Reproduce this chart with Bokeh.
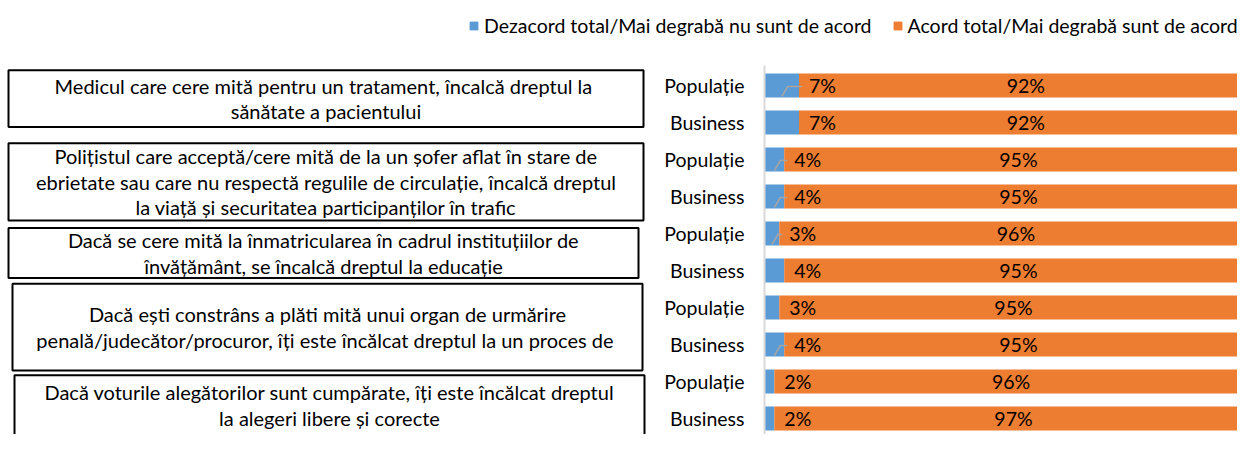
from bokeh.plotting import figure
from bokeh.models import Range1d, FixedTicker, ColumnDataSource, Legend, LegendItem
from bokeh.layouts import column, row
from bokeh.embed import file_html
from bokeh.resources import INLINE
from bokeh.core.properties import value

# ---------------- data ----------------
questions = [
    ["Medicul  care cere mită pentru un tratament, încalcă dreptul la",
     "sănătate a pacientului"],
    ["Polițistul care acceptă/cere mită de la un șofer aflat în stare de",
     "ebrietate sau care nu respectă regulile de circulație, încalcă dreptul",
     "la viață și securitatea participanților în trafic"],
    ["Dacă se cere mită la înmatricularea în cadrul instituțiilor de",
     "învățământ, se încalcă dreptul la educație"],
    ["Dacă ești constrâns a plăti mită unui organ de urmărire",
     "penală/judecător/procuror, îți este  încălcat dreptul la un proces de"],
    ["Dacă voturile alegătorilor sunt cumpărate, îți este încălcat dreptul",
     "la alegeri libere și corecte"],
]
groups = ["Populație", "Business"]
series_names = ["Dezacord total/Mai degrabă nu sunt de acord",
                "Acord total/Mai degrabă sunt de acord"]
dezacord = [7, 7, 4, 4, 3, 4, 3, 4, 2, 2]
acord = [92, 92, 95, 95, 96, 95, 95, 95, 96, 97]
leader_rows = [0, 2, 3, 4, 7]   # rows whose small label has a leader line

# ---------------- style / layout ----------------
FONT = "Lato"
BLUE = "#5B9BD5"
ORANGE = "#ED7D31"
TXT = "#000000"
FS_BOX = "20px"
FS_LBL = "19.5px"

W_TOTAL = 1237
TOP_H = 52
ROW_H = 382
BORDER_TOP = 13
LEFT_W = 650
RIGHT_W = W_TOTAL - LEFT_W
AXIS_PANEL = 114
ROW_PX = 37.0          # pixels per bar row
FIRST_ROW_PX = 20.0    # first row centre below frame top
PX_PER_PCT = 4.93
X_END = (RIGHT_W - AXIS_PANEL) / PX_PER_PCT

frame_h = ROW_H - BORDER_TOP
y_top = -FIRST_ROW_PX / ROW_PX
y_bottom = (frame_h - FIRST_ROW_PX) / ROW_PX
yr = Range1d(start=y_bottom, end=y_top)

n = len(dezacord)
rows_idx = list(range(n))
row_labels = {i: groups[i % len(groups)] for i in rows_idx}

# ---------------- right: bars ----------------
pr = figure(width=RIGHT_W, height=ROW_H, x_range=Range1d(0, X_END), y_range=yr,
            output_backend="svg", toolbar_location=None,
            min_border_left=AXIS_PANEL, min_border_right=0,
            min_border_top=BORDER_TOP, min_border_bottom=0,
            x_axis_location=None)
pr.outline_line_color = None
pr.grid.visible = False

tot = [d + a for d, a in zip(dezacord, acord)]
mid = [d + a / 2 for d, a in zip(dezacord, acord)]
src = ColumnDataSource(dict(
    y=rows_idx, zero=[0] * n, dez=dezacord, tot=tot, mid=mid,
    dez_lbl=[f"{v}%" for v in dezacord], ac_lbl=[f"{v}%" for v in acord]))

BAR_H = 24 / ROW_PX
pr.hbar(y="y", left="zero", right="dez", height=BAR_H, source=src,
        fill_color=BLUE, line_color=None)
pr.hbar(y="y", left="dez", right="tot", height=BAR_H, source=src,
        fill_color=ORANGE, line_color=None)

xs, ys = [], []
for i in leader_rows:
    d = dezacord[i]
    xs.append([d / 2, d / 2 + 6 / PX_PER_PCT, d + 3 / PX_PER_PCT])
    ys.append([i + 11 / ROW_PX, i + 1 / ROW_PX, i + 1 / ROW_PX])
pr.multi_line(xs=xs, ys=ys, line_color="#A5A5A5", line_width=1.5)

pr.text(x="dez", y="y", text="dez_lbl", source=src, x_offset=10,
        text_align="left", text_baseline="middle", text_color=TXT,
        text_font=value(FONT), text_font_size=FS_LBL)
pr.text(x="mid", y="y", text="ac_lbl", source=src,
        text_align="center", text_baseline="middle", text_color=TXT,
        text_font=value(FONT), text_font_size=FS_LBL)

ax = pr.yaxis[0]
ax.ticker = FixedTicker(ticks=rows_idx)
ax.major_label_overrides = row_labels
ax.major_tick_line_color = None
ax.minor_tick_line_color = None
ax.axis_line_color = "#D9D9D9"
ax.axis_line_width = 2
ax.major_label_standoff = 14
ax.major_label_text_font = FONT
ax.major_label_text_font_size = FS_LBL
ax.major_label_text_color = TXT

# ---------------- left: statement boxes ----------------
box_top = [-0.41, 1.56, 3.85, 5.36, 7.83]
box_bottom = [1.12, 3.65, 5.20, 7.70, 9.45]
box_left = [9, 9, 9, 13, 15]
box_right = [644, 644, 639, 643, 645]

pl = figure(width=LEFT_W, height=ROW_H, x_range=Range1d(1, 1 + LEFT_W), y_range=yr,
            output_backend="svg", toolbar_location=None,
            min_border_left=0, min_border_right=0,
            min_border_top=BORDER_TOP, min_border_bottom=0,
            x_axis_location=None, y_axis_location=None)
pl.outline_line_color = None
pl.grid.visible = False
pl.quad(left=box_left, right=box_right, top=box_top, bottom=box_bottom,
        fill_color="white", line_color="#000000", line_width=2)

LINE_PX = 25.5
tx, ty, tt = [], [], []
for k, lines in enumerate(questions):
    cx = (box_left[k] + box_right[k]) / 2
    cy = (box_top[k] + box_bottom[k]) / 2
    m = len(lines)
    for j, ln in enumerate(lines):
        tx.append(cx)
        ty.append(cy + (j - (m - 1) / 2) * LINE_PX / ROW_PX)
        tt.append(ln)
pl.text(x=tx, y=ty, text=tt, text_align="center", text_baseline="middle",
        text_color=TXT, text_font=value(FONT), text_font_size=FS_BOX)

# ---------------- top: legend ----------------
pt = figure(width=W_TOTAL, height=TOP_H, output_backend="svg", toolbar_location=None,
            x_range=Range1d(0, 1), y_range=Range1d(0, 1),
            min_border=0, x_axis_location=None, y_axis_location=None)
pt.outline_line_color = None
pt.grid.visible = False
r1 = pt.quad(left=[5], right=[6], top=[5], bottom=[6], fill_color=BLUE, line_color=None)
r2 = pt.quad(left=[5], right=[6], top=[5], bottom=[6], fill_color=ORANGE, line_color=None)
leg = Legend(items=[LegendItem(label=series_names[0], renderers=[r1]),
                    LegendItem(label=series_names[1], renderers=[r2])],
             orientation="horizontal", location=(468, 15),
             glyph_width=11, glyph_height=11, label_standoff=5, spacing=20,
             padding=0, margin=0, border_line_color=None,
             background_fill_alpha=0,
             label_text_font=FONT, label_text_font_size=FS_LBL,
             label_text_color=TXT)
pt.add_layout(leg)

layout = column(pt, row(pl, pr))
open("out.html", "w").write(file_html(layout, INLINE))
